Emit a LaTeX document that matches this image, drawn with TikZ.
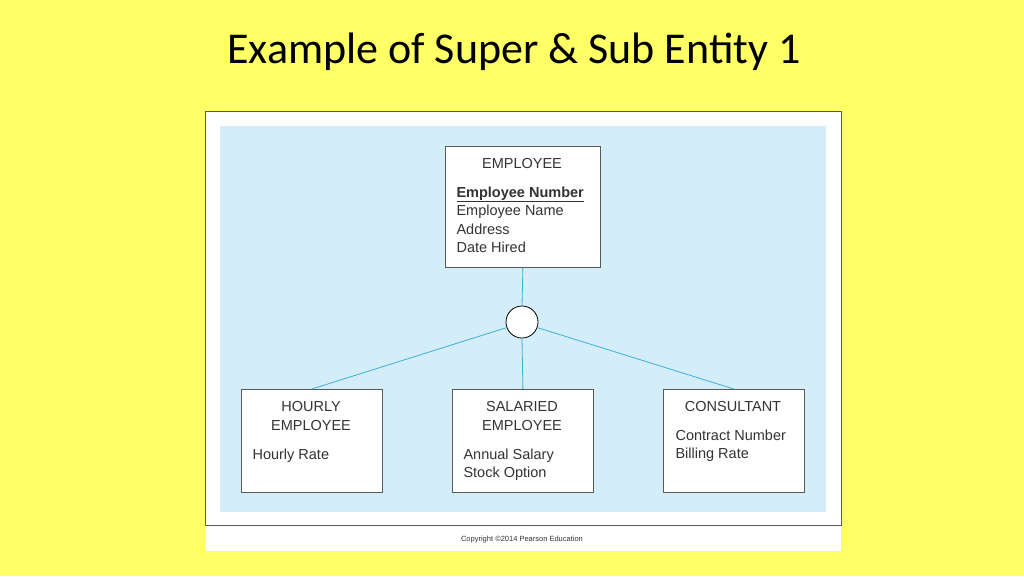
\documentclass[tikz,border=0pt]{standalone}
\usepackage{fontspec}
\setmainfont{Liberation Sans}
\newfontfamily\titlefont{Carlito}
\definecolor{bgy}{HTML}{FFFF66}
\definecolor{pb}{HTML}{D4EEF9}
\definecolor{ln}{HTML}{3AB0D8}
\definecolor{tx}{HTML}{333333}
\begin{document}
\begin{tikzpicture}[x=1pt,y=-1pt,
  ent/.style={draw=gray!70!black,fill=white,line width=0.8pt,anchor=north west,inner sep=0pt},
  conn/.style={draw=ln,line width=0.8pt},
  lbl/.style={font=\fontsize{14.5}{18.5}\selectfont,text=tx,anchor=north west,align=left}]
\fill[bgy] (0,0) rectangle (1024,576);
\useasboundingbox (0,0) rectangle (1024,576);
\node[font=\titlefont\fontsize{44}{50}\selectfont] (title) at (514,52) {Example of Super \& Sub Entity 1};
\fill[white] (205,111) rectangle (841,551);
\draw[gray!70!black,line width=0.8pt] (205,111) rectangle (841,525);
\fill[pb] (220,126) rectangle (826,512);
\node[ent,minimum width=155pt,minimum height=121pt] (emp) at (445,146) {};
\node[ent,minimum width=141pt,minimum height=103pt] (hr) at (241,389) {};
\node[ent,minimum width=141pt,minimum height=103pt] (sa) at (452,389) {};
\node[ent,minimum width=141pt,minimum height=103pt] (co) at (663,389) {};
\node[draw=black,fill=white,line width=0.8pt,circle,minimum size=32pt,inner sep=0pt] (c) at (522,322) {};
\draw[conn] (emp.south) -- (c.north);
\draw[conn] (c.south) -- (sa.north);
\draw[conn] (c.200) -- (hr.north);
\draw[conn] (c.-20) -- (co.north);
\node[lbl,anchor=north] (et) at (522,155) {EMPLOYEE};
\node[lbl] (ea) at (453,183) {\underline{\textbf{Employee Number}}\\Employee Name\\Address\\Date Hired};
\node[lbl,anchor=north,align=center] (ht) at (311,398) {HOURLY\\EMPLOYEE};
\node[lbl] (ha) at (249,445) {Hourly Rate};
\node[lbl,anchor=north,align=center] (st) at (522,398) {SALARIED\\EMPLOYEE};
\node[lbl] (sa2) at (460,445) {Annual Salary\\Stock Option};
\node[lbl,anchor=north] (ct) at (733,398) {CONSULTANT};
\node[lbl] (ca) at (672,426) {Contract Number\\Billing Rate};
\node[font=\fontsize{7.5}{9}\selectfont,text=tx] (cp) at (522,540) {Copyright \textcopyright2014 Pearson Education};
\end{tikzpicture}
\end{document}
